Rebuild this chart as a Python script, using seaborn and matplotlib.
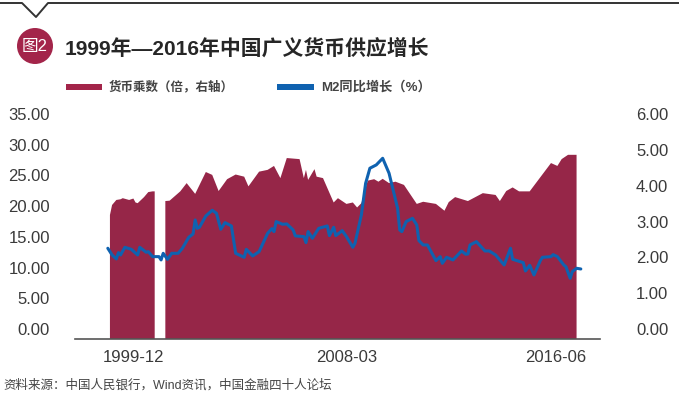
import numpy as np
import matplotlib
matplotlib.use('Agg')
import matplotlib.pyplot as plt
from matplotlib.lines import Line2D
from matplotlib.patches import Circle, Rectangle
from matplotlib.transforms import ScaledTranslation
import seaborn as sns

# months counted from 1999-01
mult_month = [0, 1, 3, 5, 6, 9, 11, 12, 13, 16, 18, 20, 21, 22, 26, 28, 33, 36, 40, 45, 48, 51, 55, 59, 63, 65,
              70, 74, 77, 80, 83, 89, 91, 92, 93, 96, 97, 100, 105, 107, 111, 114, 116, 118, 121, 124, 126, 128,
              131, 134, 138, 144, 147, 153, 157, 159, 162, 168, 175, 181, 183, 186, 189, 192, 197, 207, 210, 212,
              215, 219]
mult_value = [3.46, 3.74, 3.88, 3.90, 3.93, 3.88, 3.92, 3.81, 3.79, 3.96, 4.10, 4.12, 4.12, np.nan, 3.85, 3.86,
              4.12, 4.35, 4.05, 4.66, 4.58, 4.13, 4.46, 4.59, 4.53, 4.26, 4.67, 4.72, 4.83, 4.49, 5.05, 5.02,
              4.49, 4.72, 4.44, 4.74, 4.53, 4.49, 3.81, 3.93, 3.77, 3.81, 3.67, 3.79, 4.42, 4.46, 4.39, 4.47,
              4.35, 4.39, 4.30, 3.77, 3.83, 3.77, 3.58, 3.82, 3.96, 3.85, 4.07, 4.02, 3.85, 4.13, 4.23, 4.12,
              4.12, 4.91, 4.83, 5.02, 5.14, 5.14]

m2_month = [-1, 1, 3, 4, 5, 7, 10, 13, 14, 17, 18, 20, 23, 24, 25, 27, 29, 32, 34, 37, 39, 40, 41, 42, 45, 48, 50,
            52, 54, 57, 59, 63, 64, 67, 70, 74, 76, 77, 78, 81, 83, 86, 87, 91, 92, 93, 95, 98, 102, 103, 105, 106,
            109, 111, 114, 115, 118, 120, 122, 125, 128, 131, 135, 136, 137, 139, 142, 144, 145, 147, 149, 153,
            155, 156, 158, 161, 165, 167, 168, 169, 172, 176, 178, 181, 185, 188, 189, 194, 195, 197, 199, 202,
            203, 207, 208, 210, 213, 214, 216, 217, 219, 221]
m2_value = [14.77, 13.68, 13.03, 14.06, 13.68, 14.93, 14.60, 13.68, 14.93, 14.12, 14.22, 13.41, 13.41, 12.87, 13.95,
            12.97, 13.95, 13.95, 14.77, 16.56, 17.10, 19.38, 18.02, 18.19, 20.03, 20.96, 20.47, 17.86, 18.95, 18.40,
            13.95, 13.30, 14.60, 13.52, 14.22, 17.21, 17.97, 17.48, 19.11, 18.68, 18.73, 17.75, 16.78, 16.67, 15.69,
            17.48, 16.40, 18.02, 18.40, 16.83, 18.19, 16.83, 17.64, 16.67, 14.93, 15.58, 20.20, 25.35, 27.80, 28.34,
            29.42, 26.98, 21.28, 17.75, 17.48, 19.11, 19.65, 18.57, 16.02, 15.31, 15.31, 12.76, 13.41, 12.32, 13.30,
            12.87, 14.33, 13.79, 13.84, 15.31, 15.85, 14.33, 14.33, 13.68, 12.05, 14.77, 12.97, 12.43, 11.07, 12.00,
            10.42, 12.76, 13.30, 13.41, 13.73, 13.41, 12.05, 11.78, 9.88, 10.97, 11.51, 11.40]

x_tick_month = [11, 111, 209]
x_tick_label = ['1999-12', '2008-03', '2016-06']
left_ticks = [0, 5, 10, 15, 20, 25, 30, 35]
right_ticks = [0, 1, 2, 3, 4, 5, 6]

RED = '#962648'
BLUE = '#0f62b0'
GREY = '#3a3a3a'
W, H = 679, 394

sns.set_theme(style='white')
plt.rcParams['font.family'] = ['Liberation Sans', 'Noto Sans CJK SC']

fig = plt.figure(figsize=(W / 100, H / 100), dpi=100)
ax = fig.add_axes([75 / W, 1 - 339 / H, 525 / W, 215 / H])
ax2 = ax.twinx()
ax.set_zorder(ax2.get_zorder() + 1)
ax.patch.set_visible(False)

ax2.fill_between(mult_month, mult_value, 0, color=RED, linewidth=0)
sns.lineplot(x=m2_month, y=m2_value, ax=ax, color=BLUE, linewidth=2.2,
             estimator=None, sort=False, legend=False)

ax.set_xlim(-16.4, 230)
ax.set_ylim(0, 35)
ax2.set_ylim(0, 6)
ax.set_xticks(x_tick_month, x_tick_label)
ax.set_yticks(left_ticks, [f'{v:.2f}' for v in left_ticks])
ax2.set_yticks(right_ticks, [f'{v:.2f}' for v in right_ticks])
ax.set_xlabel('')
ax.set_ylabel('')

ax.tick_params(axis='x', length=0, pad=8, labelsize=12, labelcolor=GREY)
ax.tick_params(axis='y', length=0, pad=18, labelsize=12, labelcolor=GREY)
ax2.tick_params(axis='y', length=0, pad=26, labelsize=12, labelcolor=GREY)

# the y labels sit about 10px above their true positions in the original
shift = ScaledTranslation(0, 10 / 100, fig.dpi_scale_trans)
for a in (ax, ax2):
    for lab in a.get_yticklabels():
        lab.set_transform(lab.get_transform() + shift)
    for name in a.spines:
        a.spines[name].set_visible(False)
ax.spines['bottom'].set_visible(True)
ax.spines['bottom'].set_color('#555555')
ax.spines['bottom'].set_linewidth(1.2)


# header and footer, placed in figure pixels
def px(x, y):
    return x / W, 1 - y / H


notch_x = [0, 22, 36, 48, W]
notch_y = [3, 3, 17, 3, 3]
fig.add_artist(Line2D([x / W for x in notch_x], [1 - y / H for y in notch_y],
                      color='#333333', linewidth=1.4))
fig.add_artist(Circle((35, H - 46), 18, transform=None, color='#a3254a', linewidth=0))
fig.text(*px(35, 46), '图2', color='white', fontsize=12, ha='center', va='center')
fig.text(*px(65, 48), '1999年—2016年中国广义货币供应增长', color='#262626', fontsize=15,
         fontweight='bold', ha='left', va='center')

fig.add_artist(Rectangle(px(66, 90), 36 / W, 6 / H, transform=fig.transFigure, color='#a3254a', linewidth=0))
fig.text(*px(109, 87), '货币乘数（倍，右轴）', color='#444444', fontsize=9, fontweight='bold', ha='left', va='center')
fig.add_artist(Rectangle(px(277, 90), 37 / W, 6 / H, transform=fig.transFigure, color=BLUE, linewidth=0))
fig.text(*px(321, 87), 'M2同比增长（%）', color='#444444', fontsize=9.5, fontweight='bold', ha='left', va='center')

fig.text(*px(3, 385), '资料来源：中国人民银行，Wind资讯，中国金融四十人论坛', color='#444444', fontsize=9,
         ha='left', va='center')

fig.savefig('out.png', dpi=100)
